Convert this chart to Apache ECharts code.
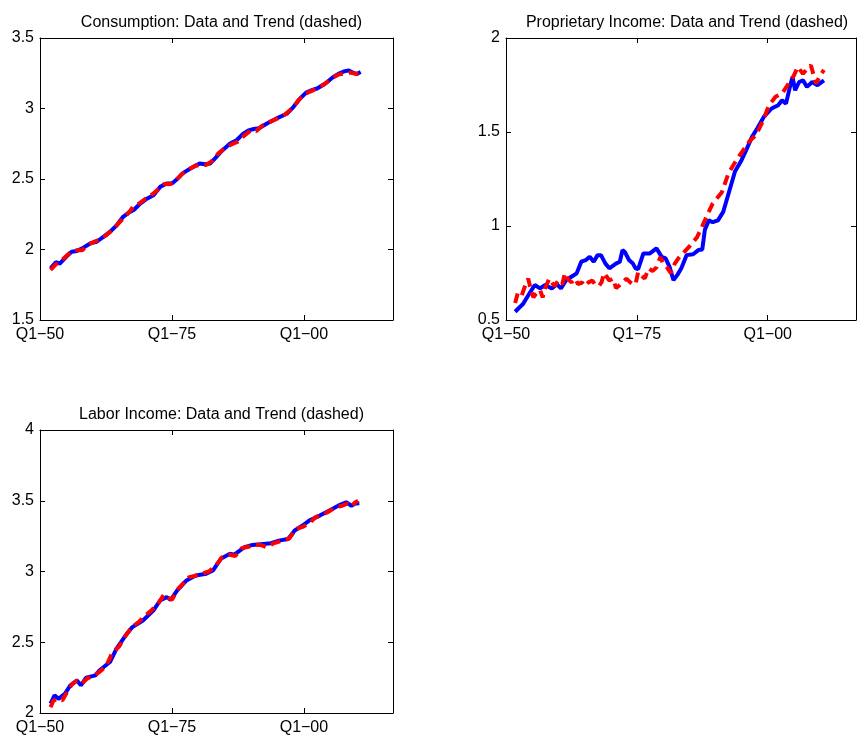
<!DOCTYPE html>
<html><head><meta charset="utf-8">
<script src="https://cdn.jsdelivr.net/npm/echarts@6/dist/echarts.min.js"></script>
<style>html,body{margin:0;padding:0;background:#fff}#c{width:859px;height:745px}</style>
</head><body><div id="c"></div>
<script>
// x positions are quarter indices counted from Q1-1950 (0)
var xTickPos = [0, 100, 200];
var xTickLabels = ['Q1\u221250', 'Q1\u221275', 'Q1\u221200'];
var titles = ['Consumption: Data and Trend (dashed)', 'Proprietary Income: Data and Trend (dashed)', 'Labor Income: Data and Trend (dashed)'];

// Consumption
var consQ = [8,12,15,20,24,28,32,38,43,48,53,58,63,67,71,76,81,86,91,96,100,104,108,114,121,125,129,133,137,144,149,154,158,162,166,172,179,187,192,197,202,206,210,216,222,227,231,234,237,240,243];
var consData = [1.866,1.91,1.90,1.95,1.984,1.99,2.008,2.043,2.055,2.09,2.125,2.17,2.232,2.26,2.28,2.326,2.36,2.385,2.444,2.468,2.468,2.50,2.54,2.574,2.61,2.605,2.61,2.65,2.692,2.751,2.775,2.822,2.845,2.855,2.86,2.893,2.928,2.963,3.01,3.07,3.115,3.13,3.142,3.176,3.222,3.25,3.265,3.27,3.255,3.245,3.259];
var consTrendQ = [8,12,16,20,24,28,32,36,40,45,50,55,60,64,68,71,75,80,85,90,94,98,102,107,112,118,122,126,130,135,140,145,150,155,160,164,168,174,180,186,191,196,201,206,211,216,221,226,231,235,240,243];
var consTrend = [1.855,1.895,1.92,1.955,1.985,1.995,1.995,2.03,2.05,2.07,2.10,2.14,2.19,2.23,2.27,2.31,2.325,2.36,2.39,2.43,2.465,2.463,2.48,2.53,2.565,2.595,2.598,2.60,2.625,2.68,2.72,2.745,2.765,2.81,2.846,2.84,2.875,2.905,2.93,2.96,3.0,3.06,3.105,3.125,3.15,3.175,3.215,3.24,3.25,3.255,3.245,3.25];

// Proprietary income
var propQ = [7,10,13,18,22,26,30,35,39,42,46,50,54,57.5,61,64,67,70,72.6,76,79,84,87,89,91,94,97,99,101,105,110,115,119,122,125,128,131,134,138,143,147,150,152,155,158,162,166,170,175,180,184,188,192,197,203,208,211,214,217,219,221,224,227,230,234,238,243];
var propData = [0.544,0.565,0.585,0.642,0.686,0.668,0.686,0.668,0.69,0.668,0.712,0.73,0.748,0.81,0.819,0.836,0.81,0.845,0.845,0.80,0.775,0.80,0.81,0.872,0.86,0.819,0.80,0.775,0.77,0.854,0.854,0.881,0.836,0.828,0.783,0.712,0.74,0.775,0.845,0.85,0.872,0.875,0.98,1.03,1.02,1.03,1.075,1.17,1.29,1.35,1.41,1.474,1.519,1.58,1.625,1.642,1.669,1.651,1.74,1.793,1.722,1.766,1.775,1.74,1.766,1.749,1.775];
var propTrendQ = [7,9,12,15,17,19,21,23,26,28,30,33,35,37,40,43,45,47,50,53,55,58,60,63,66,68,71,73,75,77,79,82,84,86,89,92,95,97,99,101,103,106,109,112,115,118,120,123,126,129,132,136,140,146,152,158,165,170,176,181,186,191,196,201,206,211,216,220,223,227,230,233,237,240,243];
var propTrend = [0.59,0.645,0.63,0.69,0.72,0.66,0.62,0.64,0.66,0.62,0.67,0.72,0.70,0.68,0.71,0.69,0.75,0.72,0.70,0.72,0.69,0.70,0.68,0.70,0.71,0.69,0.68,0.70,0.75,0.73,0.71,0.72,0.67,0.68,0.70,0.72,0.70,0.69,0.69,0.755,0.74,0.72,0.775,0.76,0.78,0.835,0.80,0.78,0.75,0.80,0.83,0.86,0.89,0.94,1.03,1.12,1.18,1.28,1.35,1.40,1.45,1.483,1.554,1.642,1.687,1.705,1.758,1.80,1.846,1.81,1.835,1.855,1.758,1.80,1.83];

// Labor income
var laborQ = [8,11,14,19,23,28,31,35,42,45,49,53,58,64,70,78,86,91,96,99,104,111,118,126,131,137,144,147,155,161,169,175,181,188,193,199,204,212,219,226,232,236,239,242];
var laborData = [2.066,2.125,2.10,2.137,2.196,2.23,2.196,2.25,2.266,2.30,2.33,2.36,2.455,2.537,2.607,2.654,2.725,2.795,2.819,2.80,2.866,2.937,2.972,2.984,3.007,3.09,3.125,3.118,3.172,3.188,3.195,3.20,3.218,3.23,3.29,3.325,3.36,3.395,3.43,3.465,3.489,3.465,3.48,3.482];
var laborTrendQ = [8,10,13,17,20,24,28,32,36,40,45,50,55,60,65,70,75,80,85,90,94,97,100,104,108,113,118,123,128,133,138,143,148,153,158,163,168,172,177,183,189,194,199,204,209,214,219,224,229,233,236,239,241];
var laborTrend = [2.04,2.085,2.10,2.09,2.14,2.20,2.23,2.21,2.245,2.26,2.29,2.33,2.43,2.47,2.55,2.61,2.645,2.69,2.73,2.78,2.838,2.815,2.80,2.87,2.91,2.96,2.97,2.985,3.0,3.04,3.10,3.12,3.11,3.165,3.175,3.19,3.185,3.17,3.20,3.215,3.235,3.30,3.315,3.34,3.385,3.40,3.425,3.455,3.465,3.48,3.46,3.49,3.5];

var yRanges = [[1.5,3.5],[0.5,2],[2,4]];
var grids = [
  {left:40, top:38, width:353, height:282},
  {left:506, top:38, width:352, height:282},
  {left:40, top:430, width:353, height:283}
];

function zip(a,b){ var r=[]; for(var i=0;i<a.length;i++) r.push([a[i],b[i]]); return r; }
var FONT = 'Liberation Sans';
var txt = {color:'#000', fontFamily:FONT, fontSize:16};
function xLab(v){ var i = xTickPos.indexOf(Math.round(v*1000)/1000); return i>=0 ? xTickLabels[i] : ''; }

var xAxes=[], yAxes=[], titleArr=[], series=[];
var seriesSets = [
  [consQ,consData,consTrendQ,consTrend],
  [propQ,propData,propTrendQ,propTrend],
  [laborQ,laborData,laborTrendQ,laborTrend]
];
grids.forEach(function(g,i){
  var common = {type:'value', min:0, max:267.5, interval:100, gridIndex:i,
    axisLine:{show:true, onZero:false, lineStyle:{color:'#000', width:1}},
    axisTick:{show:true, inside:true, length:5, lineStyle:{color:'#000'}},
    splitLine:{show:false}};
  xAxes.push(Object.assign({}, common, {position:'bottom',
    axisLabel:Object.assign({show:true, margin:7, formatter:xLab, showMinLabel:true, showMaxLabel:true}, txt)}));
  xAxes.push(Object.assign({}, common, {position:'top', axisLabel:{show:false}}));
  var yc = {type:'value', min:yRanges[i][0], max:yRanges[i][1], interval:0.5, gridIndex:i,
    axisLine:{show:true, onZero:false, lineStyle:{color:'#000', width:1}},
    axisTick:{show:true, inside:true, length:5, lineStyle:{color:'#000'}},
    splitLine:{show:false}};
  yAxes.push(Object.assign({}, yc, {position:'left', axisLabel:Object.assign({show:true, margin:6}, txt)}));
  yAxes.push(Object.assign({}, yc, {position:'right', axisLabel:{show:false}}));
  titleArr.push({text:titles[i], left:g.left+g.width/2, top:g.top-28, textAlign:'center',
    textStyle:{color:'#000', fontFamily:FONT, fontSize:16, fontWeight:'normal'}});
  var s = seriesSets[i];
  series.push({type:'line', xAxisIndex:2*i, yAxisIndex:2*i, data:zip(s[0],s[1]), showSymbol:false, symbol:'none',
    lineStyle:{color:'#0000ff', width:4}, z:2, silent:true});
  series.push({type:'line', xAxisIndex:2*i, yAxisIndex:2*i, data:zip(s[2],s[3]), showSymbol:false, symbol:'none',
    lineStyle:{color:'#ff0000', width:4, type:[10,6]}, z:3, silent:true});
});

var chart = echarts.init(document.getElementById('c'), null, {renderer:'canvas'});
chart.setOption({animation:false, backgroundColor:'#fff', title:titleArr, grid:grids, xAxis:xAxes, yAxis:yAxes, series:series});
</script></body></html>
